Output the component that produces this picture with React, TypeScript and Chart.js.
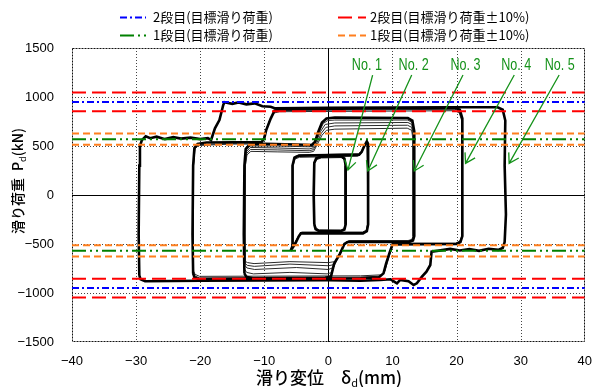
import React, { useEffect, useRef } from 'react';
import { Chart, registerables } from 'chart.js';

Chart.register(...registerables);

// ---------- axes ----------
const xTicks = [-40, -30, -20, -10, 0, 10, 20, 30, 40];
const yTicks = [-1500, -1000, -500, 0, 500, 1000, 1500];

// ---------- reference load levels (kN) ----------
const target2Levels = [950, -950];
const band2Levels = [1045, 855, -855, -1045];
const target1Levels = [570, -570];
const band1Levels = [627, 513, -513, -627];
const legendLabels = [
  '2段目(目標滑り荷重)',
  '2段目(目標滑り荷重±10%)',
  '1段目(目標滑り荷重)',
  '1段目(目標滑り荷重±10%)',
];

// ---------- hysteresis loops [δd (mm), Pd (kN)] ----------
const loopNo1a: [number, number][] = [
  [-2.2, -300], [-2.3, 0], [-2.2, 330], [-1.9, 375], [-1.2, 390], [2.0, 395], [2.5, 372], [2.7, 300],
  [2.7, -300], [2.5, -352], [2.0, -368], [-1.5, -366], [-2.0, -348], [-2.2, -300],
];
const loopNo1b: [number, number][] = [
  [-2.1, -300], [-2.2, 0], [-2.1, 320], [-1.8, 362], [-1.1, 378], [2.0, 382], [2.5, 360], [2.6, 300],
  [2.6, -300], [2.4, -345], [1.9, -358], [-1.4, -356], [-1.9, -340], [-2.1, -300],
];
const loopNo2a: [number, number][] = [
  [-5.9, -570], [-5.6, -520], [-5.6, -200], [-5.6, 300], [-5.3, 380], [-4.6, 402], [4.8, 412], [5.2, 440],
  [5.6, 500], [6.0, 548], [6.2, 520], [6.2, 300], [6.2, -300], [6.0, -370], [5.4, -392], [-4.3, -392],
  [-4.6, -420], [-5.2, -500], [-5.9, -570],
];
const loopNo2b: [number, number][] = [
  [-5.7, -530], [-5.5, -480], [-5.5, 300], [-5.2, 368], [-4.5, 385], [4.6, 395], [5.1, 420], [5.6, 490],
  [6.0, 520], [6.1, 300], [6.1, -300], [5.9, -360], [5.3, -378], [-4.2, -378], [-4.6, -410], [-5.2, -480],
  [-5.7, -530],
];
const loopNo2c: [number, number][] = [
  [-5.8, -550], [-5.55, -500], [-5.55, 300], [-5.25, 392], [-4.55, 408], [4.7, 420], [5.15, 446],
  [5.6, 505], [6.05, 535], [6.15, 300], [6.15, -300], [5.95, -365], [5.35, -386], [-4.25, -386],
  [-4.6, -415], [-5.2, -490], [-5.8, -550],
];
const loopNo3a: [number, number][] = [
  [-13.1, -800], [-13.2, -400], [-13.1, 300], [-12.9, 470], [-12.3, 515], [-10, 522], [-5, 515], [-2.6, 510],
  [-2.1, 540], [-1.6, 640], [-1.0, 740], [-0.3, 780], [1, 790], [12.4, 785], [13.1, 760], [13.4, 650],
  [13.4, 0], [13.4, -420], [13.2, -465], [12.6, -478], [3.0, -480], [2.5, -500], [1.8, -600], [0.9, -700],
  [0.4, -833], [-0.5, -845], [-11.8, -850], [-12.8, -835], [-13.1, -800],
];
const loopNo3b: [number, number][] = [
  [-13.0, -720], [-13.1, -400], [-13.0, 300], [-12.8, 440], [-12.2, 485], [-8, 480], [-3, 470], [-2.4, 480],
  [-1.8, 560], [-1.2, 650], [-0.5, 720], [1, 735], [12.4, 740], [13.0, 720], [13.3, 600], [13.3, -420],
  [13.1, -460], [12.5, -470], [3.2, -470], [2.6, -490], [1.9, -580], [1.2, -680], [0.8, -740], [0, -760],
  [-5, -740], [-11.5, -760], [-12.7, -745], [-13.0, -720],
];
const loopNo3c: [number, number][] = [
  [-12.9, -680], [-13.0, -400], [-12.9, 300], [-12.7, 410], [-12.1, 445], [-8, 440], [-3, 435], [-2.3, 445],
  [-1.7, 520], [-1.0, 610], [-0.3, 660], [1, 672], [12.3, 682], [13.0, 660], [13.2, 560], [13.2, -420],
  [13.0, -455], [12.4, -465], [3.3, -465], [2.7, -485], [2.0, -560], [1.4, -640], [1.0, -680], [0, -690],
  [-6, -680], [-11.6, -700], [-12.6, -690], [-12.9, -680],
];
const loopNo3d: [number, number][] = [
  [-13.05, -760], [-13.15, -400], [-13.05, 300], [-12.85, 455], [-12.25, 500], [-8, 500], [-3, 492],
  [-2.5, 495], [-1.9, 560], [-1.4, 650], [-0.8, 730], [-0.1, 760], [1, 765], [12.4, 765], [13.05, 740],
  [13.35, 620], [13.35, -420], [13.15, -462], [12.55, -474], [3.1, -475], [2.55, -495], [1.85, -590],
  [1.0, -690], [0.6, -790], [-0.2, -805], [-6, -790], [-11.7, -805], [-12.75, -790], [-13.05, -760],
];
const loopNo3e: [number, number][] = [
  [-12.95, -700], [-13.05, -400], [-12.95, 300], [-12.75, 425], [-12.15, 465], [-8, 460], [-3, 452],
  [-2.35, 462], [-1.75, 540], [-1.1, 630], [-0.4, 690], [1, 705], [12.35, 712], [13.0, 690], [13.25, 580],
  [13.25, -420], [13.05, -458], [12.45, -468], [3.25, -468], [2.65, -488], [1.95, -570], [1.3, -660],
  [0.9, -710], [0, -722], [-6, -705], [-11.55, -728], [-12.65, -718], [-12.95, -700],
];
const loopNo4a: [number, number][] = [
  [-21.1, -800], [-21.2, -400], [-21.1, 300], [-20.9, 480], [-20.4, 520], [-19, 535], [-10.4, 540],
  [-10.0, 580], [-9.7, 663], [-9.0, 780], [-8.4, 860], [-7.5, 875], [19.8, 890], [20.5, 870], [20.9, 780],
  [20.9, 0], [20.9, -420], [20.6, -480], [20.0, -500], [10.0, -505], [9.6, -577], [9.0, -700], [8.6, -800],
  [7.9, -840], [5, -850], [-20.2, -860], [-20.9, -840], [-21.1, -800],
];
const loopNo4b: [number, number][] = [
  [-21.0, -780], [-21.1, -400], [-21.0, 300], [-20.8, 470], [-20.3, 505], [-15, 520], [-10.6, 520],
  [-10.2, 560], [-9.8, 650], [-9.2, 760], [-8.6, 835], [-7.6, 850], [19.7, 860], [20.4, 840], [20.8, 760],
  [20.8, -420], [20.5, -470], [19.9, -490], [10.2, -490], [9.8, -560], [9.2, -690], [8.8, -780], [8.2, -815],
  [5, -825], [-20.1, -830], [-20.8, -810], [-21.0, -780],
];
const loopNo4c: [number, number][] = [
  [-21.05, -790], [-21.15, -400], [-21.05, 300], [-20.85, 475], [-20.35, 512], [-15, 528], [-10.5, 530],
  [-10.1, 570], [-9.75, 655], [-9.1, 770], [-8.5, 848], [-7.55, 862], [19.75, 875], [20.45, 855],
  [20.85, 770], [20.85, -420], [20.55, -475], [19.95, -495], [10.1, -498], [9.7, -568], [9.1, -695],
  [8.7, -790], [8.05, -828], [5, -838], [-20.15, -845], [-20.85, -825], [-21.05, -790],
];
const loopNo5a: [number, number][] = [
  [-29.5, -820], [-29.6, -400], [-29.5, 300], [-29.4, 500], [-29.1, 560], [-28.5, 600], [-27.8, 580],
  [-26.8, 595], [-25.5, 570], [-24.2, 590], [-23, 575], [-21.5, 585], [-20, 570], [-18.8, 580], [-18.3, 561],
  [-17.7, 681], [-17.0, 765], [-16.4, 918], [-16.2, 946], [-15, 930], [-14, 945], [-12.8, 925], [-11.5, 935],
  [-10.3, 905], [-9, 900], [-8.4, 885], [0, 890], [10, 893], [20, 895], [26.4, 895], [27.2, 870], [27.6, 760],
  [27.5, 300], [27.7, -200], [27.5, -480], [27.2, -540], [26.5, -560], [25, -548], [23.5, -570], [22, -552],
  [20.5, -566], [19, -550], [17.5, -565], [16.1, -578], [15.9, -714], [15.3, -782], [14.6, -833], [13.8, -901],
  [13.3, -918], [12.5, -880], [11.2, -867], [10.7, -901], [9.7, -860], [8.1, -867], [5, -875], [0, -870],
  [-10, -872], [-20, -875], [-28.6, -880], [-29.3, -860], [-29.5, -820],
];

// ---------- annotations ----------
const noLabels = ['No. 1', 'No. 2', 'No. 3', 'No. 4', 'No. 5'];
const noLabelX = [6.0, 13.3, 21.4, 29.3, 36.1];
const noLabelY = 1327;
const arrowStartX = [6.9, 13.0, 21.0, 29.0, 36.0];
const arrowStartY = 1224;
const arrowTipX = [3.05, 6.15, 13.4, 21.4, 28.2];
const arrowTipY = [255, 245, 245, 323, 323];

const fmtTick = (v: number) => (v < 0 ? '\u2212' + Math.abs(v) : String(v));

const levelData = (levels: number[]) => {
  const out: any[] = [];
  levels.forEach((lv, i) => {
    if (i > 0) out.push({ x: 0, y: null });
    out.push({ x: xTicks[0], y: lv });
    out.push({ x: xTicks[xTicks.length - 1], y: lv });
  });
  return out;
};
const loopData = (pts: [number, number][]) => pts.map(([x, y]) => ({ x, y }));

const BLUE = '#0000ff';
const RED = '#ff0000';
const GREEN = '#008000';
const ORANGE = '#ff7f1e';
const LABEL_GREEN = '#15921a';

const refStyles = [
  { color: BLUE, dash: [7, 3, 2, 3], width: 2 },
  { color: RED, dash: [14, 6], width: 2 },
  { color: GREEN, dash: [14, 4, 2, 4, 2, 4], width: 2 },
  { color: ORANGE, dash: [7, 4], width: 2 },
];
const legendPos = [
  { x1: 120, x2: 146, tx: 153, y: 17 },
  { x1: 338, x2: 366, tx: 370, y: 17 },
  { x1: 120, x2: 146, tx: 153, y: 35 },
  { x1: 338, x2: 366, tx: 370, y: 35 },
];

const CJK = '"Noto Sans CJK JP", "Noto Sans", sans-serif';

const decorPlugin = {
  id: 'decor',
  beforeDatasetsDraw(chart: any) {
    const { ctx, chartArea: a, scales } = chart;
    const x = scales.x;
    const y = scales.y;
    ctx.save();
    ctx.lineWidth = 1;
    ctx.strokeStyle = '#444';
    ctx.setLineDash([1, 2]);
    for (const v of xTicks.slice(1, -1)) {
      if (v === 0) continue;
      const px = Math.round(x.getPixelForValue(v)) + 0.5;
      ctx.beginPath();
      ctx.moveTo(px, a.top);
      ctx.lineTo(px, a.bottom);
      ctx.stroke();
    }
    for (const v of yTicks.slice(1, -1)) {
      if (v === 0) continue;
      const py = Math.round(y.getPixelForValue(v)) + 0.5;
      ctx.beginPath();
      ctx.moveTo(a.left, py);
      ctx.lineTo(a.right, py);
      ctx.stroke();
    }
    ctx.strokeStyle = '#111';
    ctx.setLineDash([2, 1]);
    const l = Math.round(a.left) + 0.5;
    const r = Math.round(a.right) - 0.5;
    const t = Math.round(a.top) + 0.5;
    const b = Math.round(a.bottom) - 0.5;
    ctx.beginPath();
    ctx.moveTo(l, t);
    ctx.lineTo(r, t);
    ctx.lineTo(r, b);
    ctx.lineTo(l, b);
    ctx.closePath();
    ctx.stroke();
    ctx.setLineDash([]);
    ctx.strokeStyle = '#000';
    const x0 = Math.round(x.getPixelForValue(0)) + 0.5;
    const y0 = Math.round(y.getPixelForValue(0)) + 0.5;
    ctx.beginPath();
    ctx.moveTo(x0, a.top);
    ctx.lineTo(x0, a.bottom);
    ctx.moveTo(a.left, y0);
    ctx.lineTo(a.right, y0);
    ctx.stroke();
    ctx.restore();
  },
  afterDatasetsDraw(chart: any) {
    const { ctx, scales } = chart;
    const x = scales.x;
    const y = scales.y;
    ctx.save();
    ctx.strokeStyle = LABEL_GREEN;
    ctx.fillStyle = LABEL_GREEN;
    ctx.lineWidth = 1.3;
    ctx.setLineDash([]);
    for (let i = 0; i < noLabels.length; i++) {
      const sx = x.getPixelForValue(arrowStartX[i]);
      const sy = y.getPixelForValue(arrowStartY);
      const tx = x.getPixelForValue(arrowTipX[i]);
      const ty = y.getPixelForValue(arrowTipY[i]);
      ctx.beginPath();
      ctx.moveTo(sx, sy);
      ctx.lineTo(tx, ty);
      const ang = Math.atan2(sy - ty, sx - tx);
      const L = 11;
      const spread = 0.55;
      ctx.moveTo(tx + L * Math.cos(ang + spread), ty + L * Math.sin(ang + spread));
      ctx.lineTo(tx, ty);
      ctx.lineTo(tx + L * Math.cos(ang - spread), ty + L * Math.sin(ang - spread));
      ctx.stroke();
      ctx.save();
      ctx.translate(x.getPixelForValue(noLabelX[i]), y.getPixelForValue(noLabelY));
      ctx.scale(0.74, 1);
      ctx.font = '17px "Liberation Sans", Arial, sans-serif';
      ctx.textAlign = 'center';
      ctx.textBaseline = 'middle';
      ctx.fillText(noLabels[i], 0, 0);
      ctx.restore();
    }
    ctx.font = '13px ' + CJK;
    ctx.textAlign = 'left';
    ctx.textBaseline = 'middle';
    for (let i = 0; i < legendLabels.length; i++) {
      const s = refStyles[i];
      const p = legendPos[i];
      ctx.strokeStyle = s.color;
      ctx.lineWidth = s.width;
      ctx.setLineDash(s.dash);
      ctx.beginPath();
      ctx.moveTo(p.x1, p.y + 0.5);
      ctx.lineTo(p.x2, p.y + 0.5);
      ctx.stroke();
      ctx.setLineDash([]);
      ctx.fillStyle = '#000';
      ctx.fillText(legendLabels[i], p.tx, p.y);
    }
    const drawTitle = (parts: { t: string; sub?: boolean }[], cx: number, cy: number, size: number) => {
      const main = '500 ' + size + 'px ' + CJK;
      const sub = Math.round(size * 0.65) + 'px ' + CJK;
      let total = 0;
      for (const p of parts) {
        ctx.font = p.sub ? sub : main;
        total += ctx.measureText(p.t).width;
      }
      let cur = cx - total / 2;
      ctx.textAlign = 'left';
      ctx.textBaseline = 'middle';
      ctx.fillStyle = '#000';
      for (const p of parts) {
        ctx.font = p.sub ? sub : main;
        ctx.fillText(p.t, cur, cy + (p.sub ? size * 0.3 : 0));
        cur += ctx.measureText(p.t).width;
      }
    };
    drawTitle([{ t: '滑り変位\u3000δ' }, { t: 'd', sub: true }, { t: '(mm)' }], 329, 378, 17);
    ctx.save();
    ctx.translate(18, 181);
    ctx.rotate(-Math.PI / 2);
    drawTitle([{ t: '滑り荷重\u2002P' }, { t: 'd', sub: true }, { t: '(kN)' }], 0, 0, 14);
    ctx.restore();
    ctx.restore();
  },
};

export default function App() {
  const ref = useRef<HTMLCanvasElement | null>(null);
  useEffect(() => {
    if (!ref.current) return;
    const refSets = [target2Levels, band2Levels, target1Levels, band1Levels].map((lv, i) => ({
      label: legendLabels[i],
      data: levelData(lv),
      borderColor: refStyles[i].color,
      borderWidth: refStyles[i].width,
      borderDash: refStyles[i].dash,
      showLine: true,
      spanGaps: false,
      pointRadius: 0,
      fill: false,
    }));
    const thick = [loopNo1a, loopNo2a, loopNo3a, loopNo4a, loopNo5a];
    const thin = [loopNo1b, loopNo2b, loopNo2c, loopNo3b, loopNo3c, loopNo3d, loopNo3e, loopNo4b, loopNo4c];
    const loopSets = [
      ...thick.map((l) => ({
        data: loopData(l),
        borderColor: '#000',
        borderWidth: 2.6,
        showLine: true,
        pointRadius: 0,
        fill: false,
        tension: 0,
      })),
      ...thin.map((l) => ({
        data: loopData(l),
        borderColor: '#2a2a2a',
        borderWidth: 1,
        showLine: true,
        pointRadius: 0,
        fill: false,
        tension: 0,
      })),
    ];
    const tickFont = { family: '"Liberation Sans", Arial, sans-serif', size: 13 };
    const chart = new Chart(ref.current, {
      type: 'scatter',
      data: { datasets: [...refSets, ...loopSets] as any },
      plugins: [decorPlugin as any],
      options: {
        responsive: false,
        animation: false,
        devicePixelRatio: 1,
        layout: { padding: { left: 0, right: 9, top: 48, bottom: 0 } },
        plugins: { legend: { display: false }, tooltip: { enabled: false } },
        scales: {
          x: {
            type: 'linear',
            min: xTicks[0],
            max: xTicks[xTicks.length - 1],
            afterBuildTicks: (s: any) => {
              s.ticks = xTicks.map((v) => ({ value: v }));
            },
            afterFit: (s: any) => {
              s.height = 45;
            },
            grid: { display: false },
            border: { display: false },
            ticks: {
              padding: 4,
              color: '#000',
              font: tickFont,
              maxRotation: 0,
              autoSkip: false,
              callback: (v: any) => fmtTick(Number(v)),
            },
          },
          y: {
            type: 'linear',
            min: yTicks[0],
            max: yTicks[yTicks.length - 1],
            afterBuildTicks: (s: any) => {
              s.ticks = yTicks.map((v) => ({ value: v }));
            },
            afterFit: (s: any) => {
              s.width = 72;
            },
            grid: { display: false },
            border: { display: false },
            ticks: {
              padding: 10,
              color: '#000',
              font: tickFont,
              autoSkip: false,
              callback: (v: any) => fmtTick(Number(v)),
            },
          },
        },
      },
    });
    return () => chart.destroy();
  }, []);
  return (
    <div style={{ position: 'fixed', left: 0, top: 0, width: 596, height: 387, background: '#fff' }}>
      <canvas ref={ref} width={596} height={387} style={{ display: 'block', width: 596, height: 387 }} />
    </div>
  );
}
